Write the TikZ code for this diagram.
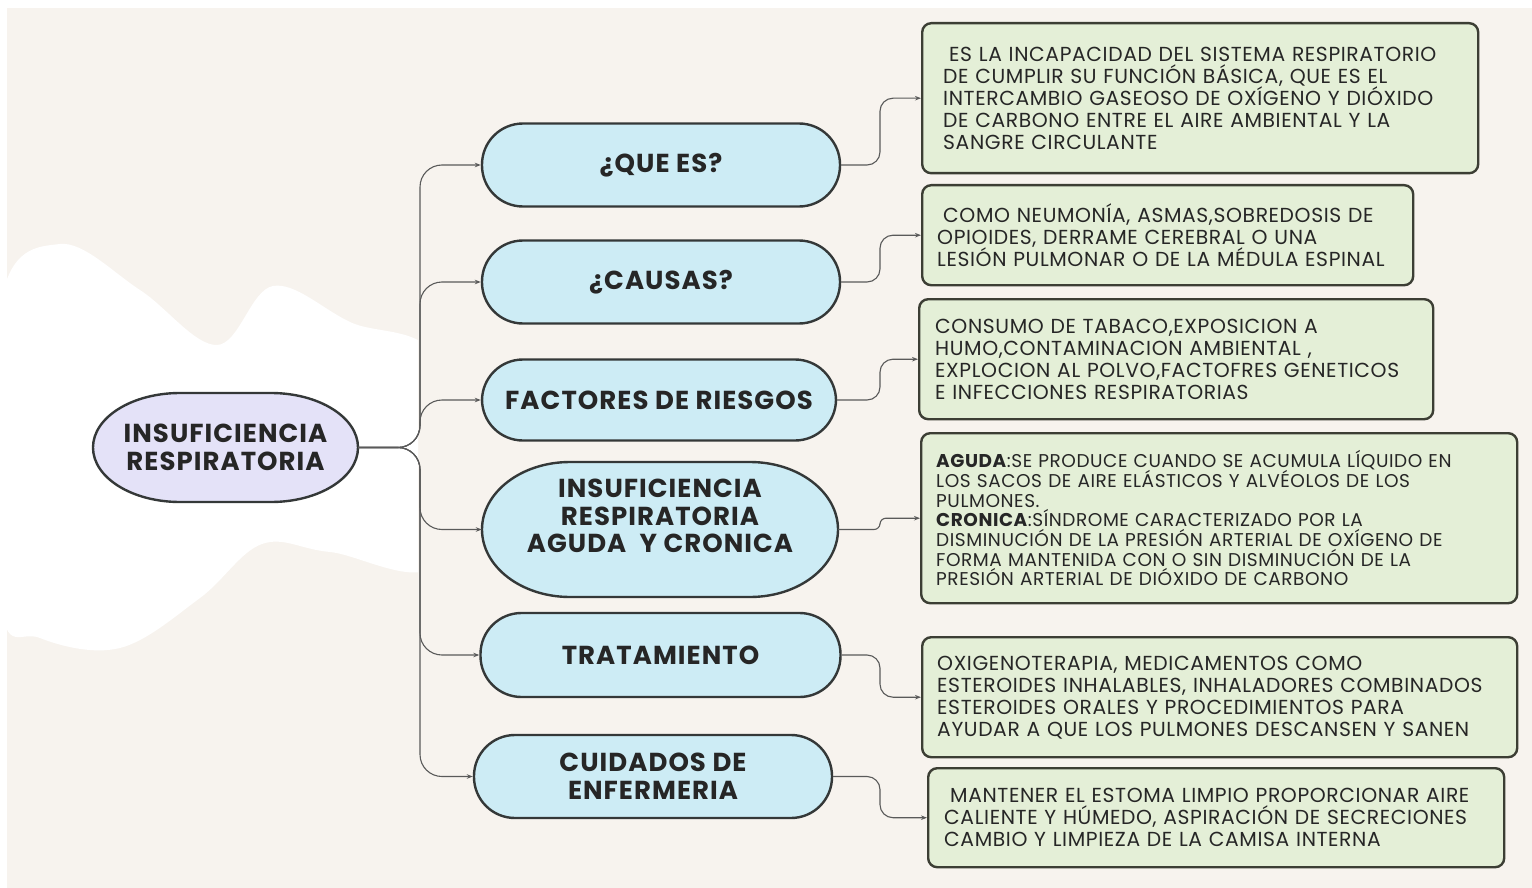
\documentclass[tikz,border=0pt]{standalone}
\usepackage{fontspec}
\setmainfont{Poppins}
\newfontfamily\popb{Poppins}[LetterSpace=4]
\newfontfamily\popr{Poppins}[LetterSpace=3]
\usetikzlibrary{arrows.meta,calc}
\definecolor{cream}{HTML}{F7F3EE}
\definecolor{lav}{HTML}{E4E2F8}
\definecolor{midfill}{HTML}{CDECF5}
\definecolor{gfill}{HTML}{E4EFD7}
\definecolor{edgec}{HTML}{343838}
\definecolor{gedge}{HTML}{3C3E34}
\definecolor{linec}{HTML}{5A5A5A}
\definecolor{txt}{HTML}{262626}
\newcommand\ovalpath[6]{\path[#6] (#1+#5,#2) -- (#3-#5,#2) arc[start angle=-90,end angle=90,x radius=#5,y radius={(#4-#2)/2}] -- (#1+#5,#4) arc[start angle=90,end angle=270,x radius=#5,y radius={(#4-#2)/2}] -- cycle;}
\tikzset{
  conn/.style={draw=linec, line width=1.1pt, -{Stealth[length=6pt,width=4.5pt]}, rounded corners=#1},
  conn/.default=13pt,
  midn/.style={draw=edgec, line width=2.4pt, fill=midfill, rounded corners=41pt,
    minimum width=358pt, minimum height=83pt, align=center, inner sep=0pt,
    text=txt, font=\popb\bfseries\fontsize{26}{27.5}\selectfont},
  ovaltext/.style={draw=none, align=center, inner sep=0pt, text=txt},
  gbox/.style={draw=gedge, line width=2.4pt, fill=gfill, rounded corners=9pt,
    anchor=north west, align=left, inner ysep=0pt, inner xsep=16pt, text=txt,
    font=\popr\fontsize{20.3}{22}\selectfont},
}
\begin{document}
\begin{tikzpicture}[x=1pt,y=-1pt]
\useasboundingbox (0,0) rectangle (1532,888);
\fill[white] (0,0) rectangle (1532,888);
\fill[cream] (7,8) rectangle (1532,888);
\begin{scope}
  \clip (7,8) rectangle (418,888);
  \fill[white] plot[smooth cycle, tension=0.6] coordinates {(0,306) (60,244) (140,290) (217,345) (273,286) (350,322) (440,365) (440,560) (330,552) (262,544) (200,598) (120,648) (40,638) (0,600)};
\end{scope}

% oval shapes
\ovalpath{93}{393}{358}{502}{87}{draw=edgec, line width=2.4pt, fill=lav}
\ovalpath{482}{462}{838}{597}{88}{draw=edgec, line width=2.4pt, fill=midfill}

\node[ovaltext, minimum width=265pt, minimum height=109pt,
  font=\popb\bfseries\fontsize{26}{28}\selectfont] (root) at (225.5,447.5) {INSUFICIENCIA\\RESPIRATORIA};

\node[midn] (m1) at (661,165) {¿QUE ES?};
\node[midn] (m2) at (661,282) {¿CAUSAS?};
\node[midn, minimum width=354pt, minimum height=81pt] (m3) at (659,400) {FACTORES DE RIESGOS};
\node[ovaltext, minimum width=356pt, minimum height=135pt,
  font=\popb\bfseries\fontsize{26}{27.5}\selectfont] (m4) at (660,529.5) {INSUFICIENCIA\\RESPIRATORIA\\AGUDA~ Y CRONICA\\\mbox{}};
\node[midn, minimum width=360pt, minimum height=84pt] (m5) at (660.5,655) {TRATAMIENTO};
\node[midn, minimum width=358pt, minimum height=83pt, font=\popb\bfseries\fontsize{26}{28}\selectfont] (m6) at (653,776.5) {CUIDADOS DE\\ENFERMERIA};

\node[gbox, minimum width=556pt, minimum height=150pt, text width=514pt, inner xsep=21pt] (g1) at (921,22)
 {\hspace*{6pt}ES LA INCAPACIDAD DEL SISTEMA RESPIRATORIO\\DE CUMPLIR SU FUNCIÓN BÁSICA, QUE ES EL\\INTERCAMBIO GASEOSO DE OXÍGENO Y DIÓXIDO\\DE CARBONO ENTRE EL AIRE AMBIENTAL Y LA\\SANGRE CIRCULANTE};
\node[gbox, minimum width=491pt, minimum height=100pt, text width=461pt, inner xsep=15pt] (g2) at (921,184)
 {\hspace*{6pt}COMO NEUMONÍA, ASMAS,SOBREDOSIS DE\\OPIOIDES, DERRAME CEREBRAL O UNA\\LESIÓN PULMONAR O DE LA MÉDULA ESPINAL};
\node[gbox, minimum width=514pt, minimum height=120pt, text width=482pt] (g3) at (918,298)
 {CONSUMO DE TABACO,EXPOSICION A\\HUMO,CONTAMINACION AMBIENTAL ,\\EXPLOCION AL POLVO,FACTOFRES GENETICOS\\E INFECCIONES RESPIRATORIAS};
\node[gbox, minimum width=596pt, minimum height=170pt, text width=566pt, inner xsep=15pt,
  font=\popr\fontsize{18.5}{19.7}\selectfont] (g4) at (920,432)
 {\textbf{AGUDA}:SE PRODUCE CUANDO SE ACUMULA LÍQUIDO EN\\LOS SACOS DE AIRE ELÁSTICOS Y ALVÉOLOS DE LOS\\PULMONES.\\\textbf{CRONICA}:SÍNDROME CARACTERIZADO POR LA\\DISMINUCIÓN DE LA PRESIÓN ARTERIAL DE OXÍGENO DE\\FORMA MANTENIDA CON O SIN DISMINUCIÓN DE LA\\PRESIÓN ARTERIAL DE DIÓXIDO DE CARBONO};
\node[gbox, minimum width=595pt, minimum height=120pt, text width=565pt, inner xsep=15pt] (g5) at (921,636)
 {OXIGENOTERAPIA, MEDICAMENTOS COMO\\ESTEROIDES INHALABLES, INHALADORES COMBINADOS\\ESTEROIDES ORALES Y PROCEDIMIENTOS PARA\\AYUDAR A QUE LOS PULMONES DESCANSEN Y SANEN};
\node[gbox, minimum width=576pt, minimum height=99pt, text width=544pt] (g6) at (927,767)
 {\hspace*{6pt}MANTENER EL ESTOMA LIMPIO PROPORCIONAR AIRE\\CALIENTE Y HÚMEDO, ASPIRACIÓN DE SECRECIONES\\CAMBIO Y LIMPIEZA DE LA CAMISA INTERNA};

% connectors
\coordinate (tr) at (420,447.5);
\coordinate (ex) at (880,0);
\draw[conn=22pt] (root.east) -- (tr) |- (m1.west);
\draw[conn=22pt] (root.east) -- (tr) |- (m2.west);
\draw[conn=22pt] (root.east) -- (tr) |- (m3.west);
\draw[conn=22pt] (root.east) -- (tr) |- (m4.west);
\draw[conn=22pt] (root.east) -- (tr) |- (m5.west);
\draw[conn=22pt] (root.east) -- (tr) |- (m6.west);
\draw[conn] (m1.east) -- (m1.east -| ex) |- (g1.west);
\draw[conn] (m2.east) -- (m2.east -| ex) |- (g2.west);
\draw[conn] (m3.east) -- (m3.east -| ex) |- (g3.west);
\draw[conn=6pt] (m4.east) -- (m4.east -| ex) |- (g4.west);
\draw[conn] (m5.east) -- (m5.east -| ex) |- (g5.west);
\draw[conn] (m6.east) -- (m6.east -| ex) |- (g6.west);
\end{tikzpicture}
\end{document}
